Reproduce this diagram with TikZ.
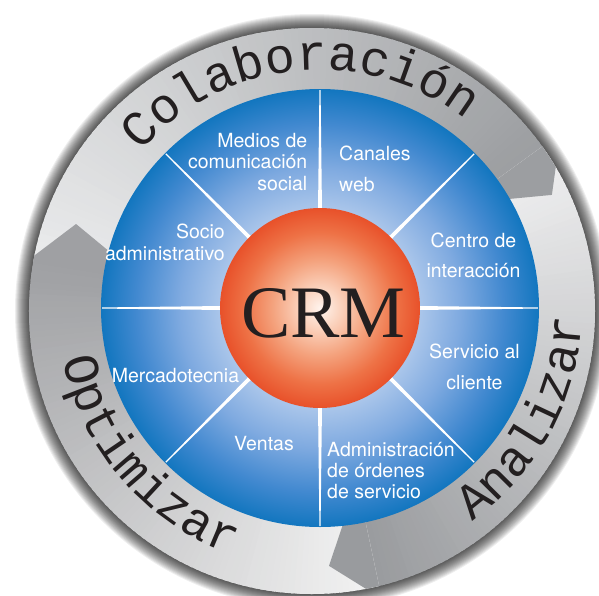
\documentclass[tikz,border=0pt]{standalone}
\usepackage{fontspec}
\setmainfont{TeX Gyre Heros}
\newfontfamily\ringfont{Liberation Mono}
\newfontfamily\crmfont{Liberation Serif}
\usetikzlibrary{decorations.text}
\definecolor{blueA}{HTML}{A9C5EA}
\definecolor{blueB}{HTML}{7FAAE0}
\definecolor{blueC}{HTML}{4289D0}
\definecolor{blueD}{HTML}{1276BF}
\definecolor{orA}{HTML}{FFF4EE}
\definecolor{orB}{HTML}{FBD3BE}
\definecolor{orC}{HTML}{F4A27D}
\definecolor{orD}{HTML}{EE7246}
\definecolor{orE}{HTML}{E8512A}
\definecolor{colLight}{HTML}{EAEBEC}
\definecolor{colDark}{HTML}{9C9EA1}
\definecolor{anaLight}{HTML}{F0F0F1}
\definecolor{anaDark}{HTML}{999B9E}
\definecolor{optLight}{HTML}{F3F3F3}
\definecolor{optDark}{HTML}{9FA0A3}
\definecolor{txtdark}{HTML}{231F20}
\pgfdeclareradialshading{blueshade}{\pgfpoint{0bp}{0bp}}{color(0bp)=(blueA); color(11.5bp)=(blueA); color(16bp)=(blueB); color(21bp)=(blueC); color(25bp)=(blueD); color(50bp)=(blueD)}
\pgfdeclareradialshading{orangeshade}{\pgfpoint{0bp}{0bp}}{color(0bp)=(orA); color(5bp)=(orB); color(12bp)=(orC); color(19bp)=(orD); color(25bp)=(orE); color(50bp)=(orE)}
\newcommand\ringband[4]{%
  \foreach \i in {0,...,89}{%
    \pgfmathsetmacro\angA{#1+(#2-#1)*\i/90}%
    \pgfmathsetmacro\angB{#1+(#2-#1)*(\i+1.5)/90}%
    \pgfmathtruncatemacro\pp{100*(\i+0.5)/90}%
    \fill[#4!\pp!#3] (\angA:205) arc[start angle=\angA, end angle=\angB, radius=205] -- (\angB:310) arc[start angle=\angB, end angle=\angA, radius=310] -- cycle;
  }}
\begin{document}
\begin{tikzpicture}[x=1pt,y=1pt,
  lbl/.style={text=white, font=\fontsize{19.5}{21.5}\selectfont, inner sep=0pt},
  ringpath/.style={decoration={text along path, text align=center, text={|\ringfont\fontsize{50}{50}\selectfont\color{txtdark}|#1}}, decorate}]
\useasboundingbox (-320,-287) rectangle (279,308);
\clip (-320,-287) rectangle (279,308);
\fill[white] (-320,-287) rectangle (279,308);
% drop shadow of the ring
\foreach \r in {297,296,...,284} \fill[black,opacity=0.065] (-8,-3) circle[radius=\r];
% grey ring of three arrows
\begin{scope}
  \clip (-8,-3) circle[radius=283];
  \ringband{171}{36}{colLight}{colDark}
  \ringband{36}{-78}{anaLight}{anaDark}
  \ringband{-78}{-189}{optLight}{optDark}
  \fill[colDark] (36:200) -- (30:218) -- (26:258) -- (34.5:290) -- (35.5:312) -- (36:312) -- cycle;
  \fill[anaDark] (-78:200) -- (-84:218) -- (-88:258) -- (-79.5:290) -- (-78.5:312) -- (-78:312) -- cycle;
  \fill[optDark] (-189:200) -- (-195:218) -- (-199:258) -- (-190.5:290) -- (-189.5:312) -- (-189:312) -- cycle;
\end{scope}
% blue disk
\shade[shading=blueshade] (0,0) circle[radius=219];
% white dividers
\foreach \a in {0,45,...,315}
  \fill[white] (\a-1.2:96) -- (\a-0.15:218) -- (\a+0.15:218) -- (\a+1.2:96) -- cycle;
% orange core
\shade[shading=orangeshade] (0,0) circle[radius=100];
\node[font=\crmfont\fontsize{74}{74}\selectfont, text=txtdark, anchor=base, inner sep=0pt] (crm) at (3.5,-29) {CRM};
% labels
\node[lbl, anchor=base east] (med1) at (-12.5,161) {Medios de};
\node[lbl, anchor=base east] (med2) at (-12.5,140) {comunicación};
\node[lbl, anchor=base east] (med3) at (-12.5,118) {social};
\node[lbl, anchor=base west] (can1) at (19,148) {Canales};
\node[lbl, anchor=base west] (can2) at (19,117) {web};
\node[lbl, anchor=base] (cen1) at (153.5,61) {Centro de};
\node[lbl, anchor=base] (cen2) at (153.5,31) {interacción};
\node[lbl, anchor=base east] (soc1) at (-95,70) {Socio};
\node[lbl, anchor=base east] (soc2) at (-95,48) {administrativo};
\node[lbl, anchor=base] (mer) at (-144.5,-74) {Mercadotecnia};
\node[lbl, anchor=base] (ven) at (-56,-142) {Ventas};
\node[lbl, anchor=base] (ser1) at (154.5,-50) {Servicio al};
\node[lbl, anchor=base] (ser2) at (154.5,-81) {cliente};
\node[lbl, anchor=base west] (adm1) at (7,-148) {Administración};
\node[lbl, anchor=base west] (adm2) at (7,-169) {de órdenes};
\node[lbl, anchor=base west] (adm3) at (7,-190) {de servicio};
% ring words
\path[ringpath=Colaboración] (175.5:238) arc[start angle=175.5, end angle=15.5, radius=238];
\path[ringpath=Optimizar] (160.75:262) arc[start angle=160.75, end angle=280.75, radius=262];
\path[ringpath=Analizar] (-88.35:262) arc[start angle=-88.35, end angle=31.65, radius=262];
\end{tikzpicture}
\end{document}
